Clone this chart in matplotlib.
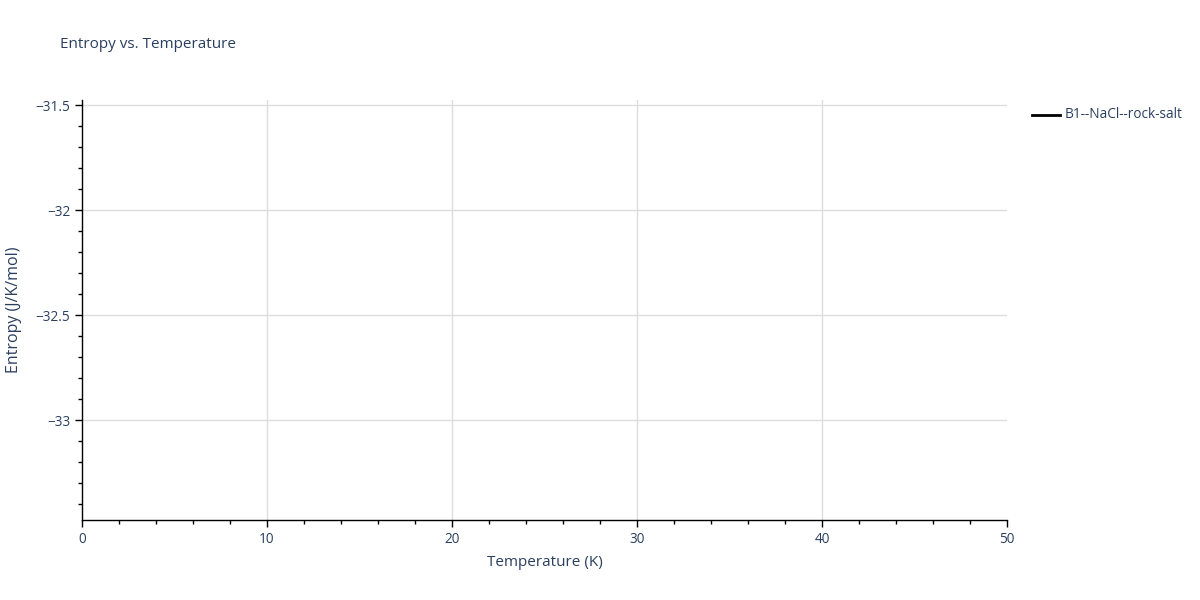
import matplotlib
matplotlib.use("Agg")
import matplotlib.pyplot as plt
from matplotlib.ticker import MultipleLocator

# data (no points visible inside the shown range)
temperature = []
entropy = []
series_name = "B1--NaCl--rock-salt"

plt.rcParams['font.family'] = ['Open Sans', 'DejaVu Sans']
txt = '#2a3f5f'

fig = plt.figure(figsize=(12, 6), dpi=100)
ax = fig.add_axes([82 / 1200, 1 - 520 / 600, (1007 - 82) / 1200, 420 / 600])

ax.plot(temperature, entropy, color='black', linewidth=2, label=series_name)

ax.set_xlim(0, 50)
ax.set_ylim(-33.476, -31.476)

ax.xaxis.set_major_locator(MultipleLocator(10))
ax.xaxis.set_minor_locator(MultipleLocator(2))
ax.yaxis.set_major_locator(MultipleLocator(0.5))
ax.yaxis.set_minor_locator(MultipleLocator(0.1))
ax.yaxis.set_major_formatter(lambda v, p: ('%g' % v).replace('-', '\u2212'))

ax.grid(True, which='major', color='#dddddd', linewidth=1)
ax.set_axisbelow(True)
for s in ['top', 'right']:
    ax.spines[s].set_visible(False)
for s in ['left', 'bottom']:
    ax.spines[s].set_color('black')
    ax.spines[s].set_linewidth(1)

ax.tick_params(which='major', length=5, width=1, color='black', labelcolor=txt, labelsize=9.8)
ax.tick_params(which='minor', length=3, width=1, color='black')

ax.set_xlabel('Temperature (K)', color=txt, fontsize=11, labelpad=6)
ax.set_ylabel('Entropy (J/K/mol)', color=txt, fontsize=11.5, labelpad=10)

fig.text(60 / 1200, 1 - 45 / 600, 'Entropy vs. Temperature', color=txt,
         fontsize=11, va='center', ha='left')

# legend
fig.lines.append(plt.Line2D([1032 / 1200, 1060 / 1200], [1 - 115 / 600, 1 - 115 / 600],
                            color='black', linewidth=2, transform=fig.transFigure))
fig.text(1065 / 1200, 1 - 115 / 600, series_name, color=txt, fontsize=9.8,
         va='center', ha='left')

# hide gridline at the plot edges
fig.canvas.draw()
for tick in ax.xaxis.get_major_ticks():
    if abs(tick.get_loc() - 50) < 1e-6 or abs(tick.get_loc()) < 1e-6:
        tick.gridline.set_visible(False)

fig.savefig('out.png', dpi=100)
